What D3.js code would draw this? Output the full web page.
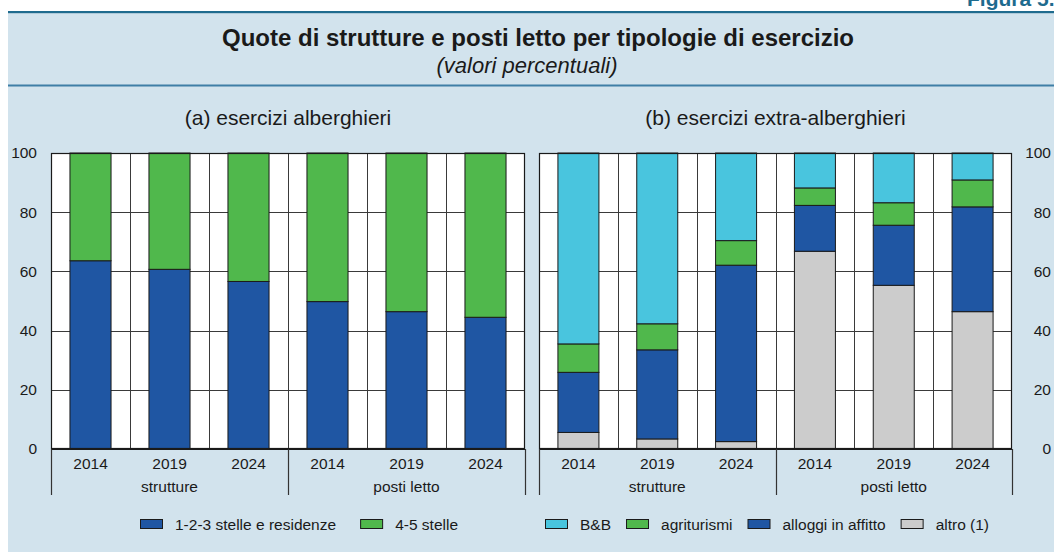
<!DOCTYPE html>
<html><head><meta charset="utf-8">
<script src="https://cdn.jsdelivr.net/npm/d3@7/dist/d3.min.js"></script>
<style>
body{margin:0;background:#fff;}
svg text{font-family:"Liberation Sans",Arial,sans-serif;fill:#1a1a1a;}
</style></head>
<body>
<svg id="c" width="1054" height="552"></svg>
<script>
// ---- data ----
const groups = ["strutture", "posti letto"];
const years = ["2014", "2019", "2024"];
const yTicks = [0, 20, 40, 60, 80, 100];

const hotelSeries = ["1-2-3 stelle e residenze", "4-5 stelle"];
const hotelLow  = [63.6, 60.7, 56.6, 49.8, 46.4, 44.5];
const hotelHigh = [36.4, 39.3, 43.4, 50.2, 53.6, 55.5];

const extraSeries = ["B&B", "agriturismi", "alloggi in affitto", "altro (1)"];
const extraBnB     = [64.5, 57.7, 29.6, 11.8, 16.8, 9.1];
const extraAgri    = [9.6, 8.8, 8.3, 5.9, 7.6, 9.1];
const extraAlloggi = [20.3, 30.1, 59.6, 15.5, 20.3, 35.4];
const extraAltro   = [5.6, 3.4, 2.5, 66.8, 55.3, 46.4];

const title = "Quote di strutture e posti letto per tipologie di esercizio";
const subtitle = "(valori percentuali)";
const panelTitles = ["(a) esercizi alberghieri", "(b) esercizi extra-alberghieri"];

// ---- style ----
const C = {blue:"#1f56a3", green:"#50b84c", cyan:"#49c5de", grey:"#cccccc",
           bg:"#d2e3ed", dark:"#1f6b8e", sep:"#3f7fa6"};
const FS = 15.5;

const svg = d3.select("#c");
svg.append("rect").attr("x",8).attr("y",13).attr("width",1046).attr("height",539).attr("fill",C.bg);
svg.append("rect").attr("x",8).attr("y",11).attr("width",1046).attr("height",2.2).attr("fill",C.dark);
svg.append("rect").attr("x",8).attr("y",84.5).attr("width",1046).attr("height",2).attr("fill",C.sep);
svg.append("text").attr("x",967).attr("y",6).attr("font-size",21).attr("font-weight","bold")
   .style("fill",C.dark).text("Figura 5.");

svg.append("text").attr("x",538).attr("y",46).attr("text-anchor","middle")
   .attr("font-size",24).attr("font-weight","bold").text(title);
svg.append("text").attr("x",527).attr("y",73).attr("text-anchor","middle")
   .attr("font-size",22).attr("font-style","italic").text(subtitle);

const keys = [];
groups.forEach(g => years.forEach(y => keys.push(g + "|" + y)));

const y = d3.scaleLinear().domain([0,100]).range([449,153]);

function panel(x0, x1, rows, seriesKeys, colors, titleText, axisSide) {
  const x = d3.scaleBand().domain(keys).range([x0, x1]).paddingInner(0.48).paddingOuter(0.24);
  const step = x.step();
  const g = svg.append("g");
  g.append("rect").attr("x",x0).attr("y",y(100)).attr("width",x1-x0).attr("height",y(0)-y(100)).attr("fill","#fff");
  // horizontal gridlines
  g.selectAll(".hg").data(yTicks.filter(t=>t>0 && t<100)).join("line")
    .attr("x1",x0).attr("x2",x1).attr("y1",d=>Math.round(y(d))+0.5).attr("y2",d=>Math.round(y(d))+0.5)
    .attr("stroke","#3a3a3a").attr("stroke-width",1);
  // vertical band separators
  const bounds = keys.slice(1).map(k => x(k) - step*0.24);
  g.selectAll(".vg").data(bounds).join("line")
    .attr("x1",d=>Math.round(d)+0.5).attr("x2",d=>Math.round(d)+0.5).attr("y1",y(100)).attr("y2",y(0))
    .attr("stroke","#3a3a3a").attr("stroke-width",1);
  // stacked bars
  const stack = d3.stack().keys(seriesKeys)(rows);
  stack.forEach((layer, li) => {
    g.selectAll(null).data(layer).join("rect")
      .attr("x", d => x(d.data.key)).attr("width", x.bandwidth())
      .attr("y", d => y(d[1])).attr("height", d => y(d[0]) - y(d[1]))
      .attr("fill", colors[li]).attr("stroke","#1a1a1a").attr("stroke-width",1);
  });
  // frame
  g.append("rect").attr("x",x0+0.5).attr("y",y(100)+0.5).attr("width",x1-x0-1).attr("height",y(0)-y(100)-1)
    .attr("fill","none").attr("stroke","#1a1a1a").attr("stroke-width",1.2);
  // x axis labels
  const xAxis = d3.axisBottom(x).tickSize(0).tickPadding(0).tickFormat(k => k.split("|")[1]);
  const ax = g.append("g").attr("transform",`translate(0,${y(0)})`).call(xAxis);
  ax.select(".domain").attr("stroke","#1a1a1a").attr("stroke-width",1.2);
  ax.selectAll("text").attr("font-size",FS).attr("y",0).attr("dy","19.5px").style("fill","#1a1a1a")
    .attr("font-family","Liberation Sans, Arial, sans-serif");
  // group labels and separators
  const gStart = groups.map(gr => x(gr+"|"+years[0]) - step*0.24);
  const seps = [x0, gStart[1], x1];
  g.selectAll(".gs").data(seps).join("line")
    .attr("x1",d=>Math.round(d)+0.5).attr("x2",d=>Math.round(d)+0.5).attr("y1",y(0)).attr("y2",495)
    .attr("stroke","#333").attr("stroke-width",1.2);
  g.selectAll(".gl").data(groups).join("text")
    .attr("x", gr => x(gr+"|"+years[1]) + x.bandwidth()/2).attr("y",492)
    .attr("text-anchor","middle").attr("font-size",FS).text(d=>d);
  // y axis labels
  const yAx = axisSide === "left" ? d3.axisLeft(y) : d3.axisRight(y);
  const ya = g.append("g").attr("transform",`translate(${axisSide==="left"?37:1051},0)`)
    .call(yAx.tickValues(yTicks).tickSize(0).tickPadding(0));
  ya.select(".domain").remove();
  ya.selectAll("text").attr("font-size",FS).attr("x",0).attr("text-anchor","end")
    .style("fill","#1a1a1a").attr("font-family","Liberation Sans, Arial, sans-serif");
  // panel title
  svg.append("text").attr("x",(x0+x1)/2).attr("y",125).attr("text-anchor","middle")
    .attr("font-size",21).text(titleText);
}

const hotelRows = keys.map((k,i) => ({key:k, low:hotelLow[i], high:hotelHigh[i]}));
panel(51, 525, hotelRows, ["low","high"], [C.blue, C.green], panelTitles[0], "left");

const extraRows = keys.map((k,i) => ({key:k, altro:extraAltro[i], alloggi:extraAlloggi[i], agri:extraAgri[i], bnb:extraBnB[i]}));
panel(539, 1012, extraRows, ["altro","alloggi","agri","bnb"], [C.grey, C.blue, C.green, C.cyan], panelTitles[1], "right");

// legends
function legend(startX, gap, labels, colors) {
  let cx = startX;
  labels.forEach((lab, i) => {
    svg.append("rect").attr("x",cx+0.5).attr("y",519.5).attr("width",22).attr("height",9)
      .attr("fill",colors[i]).attr("stroke","#1a1a1a").attr("stroke-width",1);
    const t = svg.append("text").attr("x",cx+35).attr("y",529.5).attr("font-size",FS).text(lab);
    cx = cx + 35 + t.node().getComputedTextLength() + gap;
  });
}
legend(140, 24, hotelSeries, [C.blue, C.green]);
legend(545, 15, extraSeries, [C.cyan, C.green, C.blue, C.grey]);
</script>
</body></html>
